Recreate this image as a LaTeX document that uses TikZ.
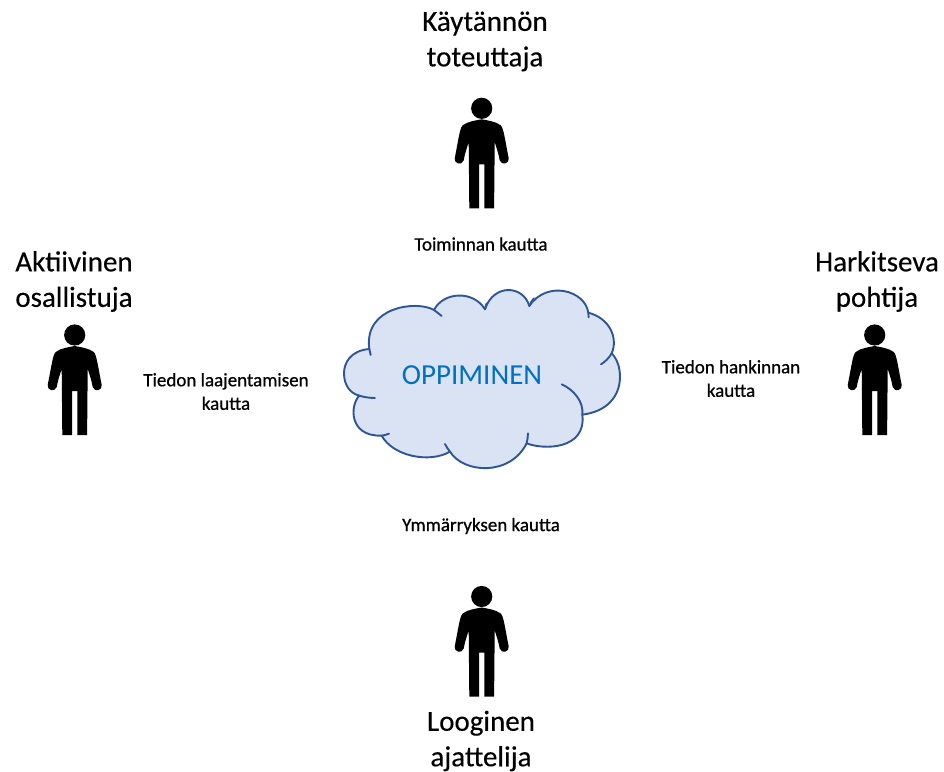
\documentclass[tikz,border=0pt]{standalone}
\usepackage{fontspec}
\setmainfont{Carlito}
\newfontfamily\heavyfont{Carlito}[FakeBold=0.25]
\newfontfamily\midfont{Carlito}[FakeBold=0.7]
\tikzset{
  bigtext/.style={align=center,font=\heavyfont\fontsize{29}{35.5}\selectfont,text=black,inner sep=0pt},
  smalltext/.style={align=center,font=\midfont\fontsize{19}{23.5}\selectfont,text=black,inner sep=0pt},
  cloudline/.style={draw=cloudedge,line width=1.9pt,line cap=round,line join=round},
  personshape/.pic={
    \fill[black] (0,0) circle (10.6);
    \fill[black] (0,11) .. controls (-5,12) and (-14,13) .. (-19,17)
      .. controls (-22,20) and (-23,30) .. (-27,50)
      .. controls (-28,55) and (-20,58) .. (-18,52)
      .. controls (-17,46) and (-15,40) .. (-13,34)
      -- (-12.4,100) -- (-2.7,100) -- (-2.7,56) -- (2.7,56) -- (2.7,100) -- (12.4,100) -- (13,34)
      .. controls (15,40) and (17,46) .. (18,52)
      .. controls (20,58) and (28,55) .. (27,50)
      .. controls (23,30) and (22,20) .. (19,17)
      .. controls (14,13) and (5,12) .. (0,11) -- cycle;
  }
}
\definecolor{cloudfill}{HTML}{DAE3F3}
\definecolor{cloudedge}{HTML}{2F5597}
\definecolor{cloudtext}{HTML}{0070C0}
\begin{document}
\begin{tikzpicture}[x=1pt,y=-1pt]
\useasboundingbox (0,0) rectangle (944,771);
\fill[white] (0,0) rectangle (944,771);
\begin{scope}[shift={(330,280)},x=0.3333pt,y=-0.3333pt]
\path[cloudline,fill=cloudfill]
  (118,207) .. controls (60,212) and (42,250) .. (42,280)
  .. controls (42,315) and (60,340) .. (88,347)
  .. controls (60,375) and (55,470) .. (155,467)
  .. controls (190,530) and (300,550) .. (360,515)
  .. controls (400,580) and (540,590) .. (590,490)
  .. controls (640,510) and (770,510) .. (757,404)
  .. controls (830,395) and (870,350) .. (870,290)
  .. controls (870,260) and (860,235) .. (845,220)
  .. controls (865,175) and (840,115) .. (775,98)
  .. controls (765,30) and (650,0) .. (598,78)
  .. controls (580,15) and (490,10) .. (465,88)
  .. controls (430,30) and (340,35) .. (312,90)
  .. controls (260,60) and (100,80) .. (118,207) -- cycle;
\draw[cloudline] (118,207) -- (122,225);
\draw[cloudline] (88,347) .. controls (100,351) and (118,354) .. (135,354);
\draw[cloudline] (155,467) .. controls (162,466) and (170,464) .. (177,461);
\draw[cloudline] (360,515) .. controls (354,508) and (349,500) .. (345,492);
\draw[cloudline] (590,490) .. controls (592,480) and (594,470) .. (594,460);
\draw[cloudline] (757,404) .. controls (762,365) and (730,328) .. (695,313);
\draw[cloudline] (845,220) .. controls (838,233) and (826,245) .. (813,253);
\draw[cloudline] (775,98) -- (776,112);
\draw[cloudline] (598,78) .. controls (602,68) and (607,60) .. (612,55);
\draw[cloudline] (465,88) .. controls (466,82) and (468,76) .. (470,70);
\draw[cloudline] (312,90) .. controls (320,96) and (328,102) .. (335,108);
\end{scope}
\node[text=cloudtext,font=\fontsize{29}{30}\selectfont,inner sep=0pt] (center) at (472,375) {OPPIMINEN};
\pic at (481.7,108.3) {personshape};
\pic at (74.7,335) {personshape};
\pic at (874.7,335) {personshape};
\pic at (481.7,596.5) {personshape};
\node[bigtext] (top) at (485,41.5) {Käytännön\\toteuttaja};
\node[bigtext] (left) at (74,281.5) {Aktiivinen\\osallistuja};
\node[bigtext] (right) at (877,281.5) {Harkitseva\\pohtija};
\node[bigtext] (bottom) at (481,741) {Looginen\\ajattelija};
\node[smalltext] (ta) at (481,244) {Toiminnan kautta};
\node[smalltext] (tb) at (226,391.5) {Tiedon laajentamisen\\kautta};
\node[smalltext] (tc) at (731,378.5) {Tiedon hankinnan\\kautta};
\node[smalltext] (td) at (481,526) {Ymmärryksen kautta};
\end{tikzpicture}
\end{document}
